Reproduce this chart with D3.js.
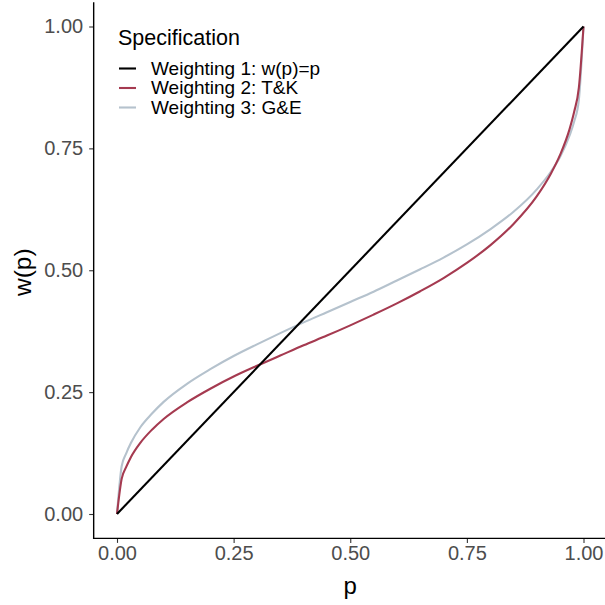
<!DOCTYPE html>
<html>
<head>
<meta charset="utf-8">
<script src="https://cdn.jsdelivr.net/npm/d3@7"></script>
<style>
  html, body { margin: 0; padding: 0; background: #fff; overflow: hidden; }
  svg { display: block; font-family: "Liberation Sans", Arial, sans-serif; }
</style>
</head>
<body>
<svg id="chart" width="605" height="605"></svg>
<script>
// Probability grid and weighting values for each specification
const probs = [0, 0.01, 0.02, 0.03, 0.05, 0.075, 0.1, 0.15, 0.2, 0.25, 0.3, 0.35, 0.4, 0.45,
  0.5, 0.55, 0.6, 0.65, 0.7, 0.75, 0.8, 0.85, 0.9, 0.93, 0.95, 0.97, 0.98, 0.99, 1];
const linearW = [0, 1];
const linearP = [0, 1];
const tkW = [0, 0.072, 0.097, 0.117, 0.146, 0.173, 0.195, 0.229, 0.257, 0.282, 0.304, 0.325,
  0.346, 0.366, 0.387, 0.409, 0.432, 0.457, 0.484, 0.515, 0.551, 0.595, 0.652, 0.698, 0.737,
  0.789, 0.825, 0.874, 1];
const geW = [0, 0.098, 0.125, 0.146, 0.178, 0.206, 0.230, 0.267, 0.297, 0.324, 0.348, 0.371,
  0.393, 0.414, 0.435, 0.456, 0.479, 0.502, 0.526, 0.553, 0.584, 0.620, 0.666, 0.702, 0.733,
  0.776, 0.805, 0.849, 1];

const seriesNames = ["Weighting 1: w(p)=p", "Weighting 2: T&K", "Weighting 3: G&E"];
const seriesColors = ["#000000", "#A53A50", "#B5C2CD"];
const tickVals = [0, 0.25, 0.5, 0.75, 1];
const tickLabels = ["0.00", "0.25", "0.50", "0.75", "1.00"];

const svg = d3.select("#chart");

// Scales: data 0..1, panel padded by 5% on each side
const x = d3.scaleLinear().domain([0, 1]).range([117, 583.5]);
const y = d3.scaleLinear().domain([0, 1]).range([514, 26.5]);
const x0 = x(-0.05), x1 = x(1.05), y0 = y(-0.05), y1 = y(1.05);

// Axes
const fmt = (d) => tickLabels[tickVals.indexOf(d)];
const yAxis = svg.append("g")
  .attr("transform", `translate(${x0},0)`)
  .call(d3.axisLeft(y).tickValues(tickVals).tickFormat(fmt).tickSize(4.5).tickPadding(6));
const xAxis = svg.append("g")
  .attr("transform", `translate(0,${y0})`)
  .call(d3.axisBottom(x).tickValues(tickVals).tickFormat(fmt).tickSize(4.5).tickPadding(3));
[xAxis, yAxis].forEach(g => {
  g.select(".domain").remove();
  g.selectAll(".tick line").attr("stroke", "#333").attr("stroke-width", 1.1);
  g.selectAll(".tick text").attr("fill", "#4D4D4D").style("font-size", "20px");
});

// Axis lines
svg.append("line").attr("x1", x0).attr("x2", x0).attr("y1", y1).attr("y2", y0 + 0.7)
  .attr("stroke", "#000").attr("stroke-width", 1.4);
svg.append("line").attr("x1", x0 - 0.7).attr("x2", x1).attr("y1", y0).attr("y2", y0)
  .attr("stroke", "#000").attr("stroke-width", 1.4);

// Axis titles
svg.append("text").attr("x", x(0.5)).attr("y", 594).attr("text-anchor", "middle")
  .style("font-size", "24px").attr("fill", "#000").text("p");
svg.append("text").attr("transform", `translate(31,${y(0.5) + 2}) rotate(-90)`)
  .attr("text-anchor", "middle").style("font-size", "24.5px").attr("fill", "#000").text("w(p)");

// Lines
const line = d3.line().x(d => x(d[0])).y(d => y(d[1])).curve(d3.curveMonotoneX);
const series = [
  d3.zip(linearP, linearW),
  d3.zip(probs, tkW),
  d3.zip(probs, geW)
];
// draw T&K, G&E first, identity line on top
[2, 1, 0].forEach(i => {
  svg.append("path").datum(series[i]).attr("d", line)
    .attr("fill", "none").attr("stroke", seriesColors[i]).attr("stroke-width", 2.1)
    .attr("stroke-linejoin", "round");
});

// Legend
const lg = svg.append("g").attr("transform", "translate(118,0)");
lg.append("text").attr("x", 0).attr("y", 45).style("font-size", "21.5px").attr("fill", "#000")
  .text("Specification");
seriesNames.forEach((name, i) => {
  const yy = 68.5 + i * 19.5;
  lg.append("line").attr("x1", 1).attr("x2", 18).attr("y1", yy).attr("y2", yy)
    .attr("stroke", seriesColors[i]).attr("stroke-width", 2.1);
  lg.append("text").attr("x", 33).attr("y", yy + 6.3).style("font-size", "19px")
    .attr("fill", "#000").text(name);
});
</script>
</body>
</html>
